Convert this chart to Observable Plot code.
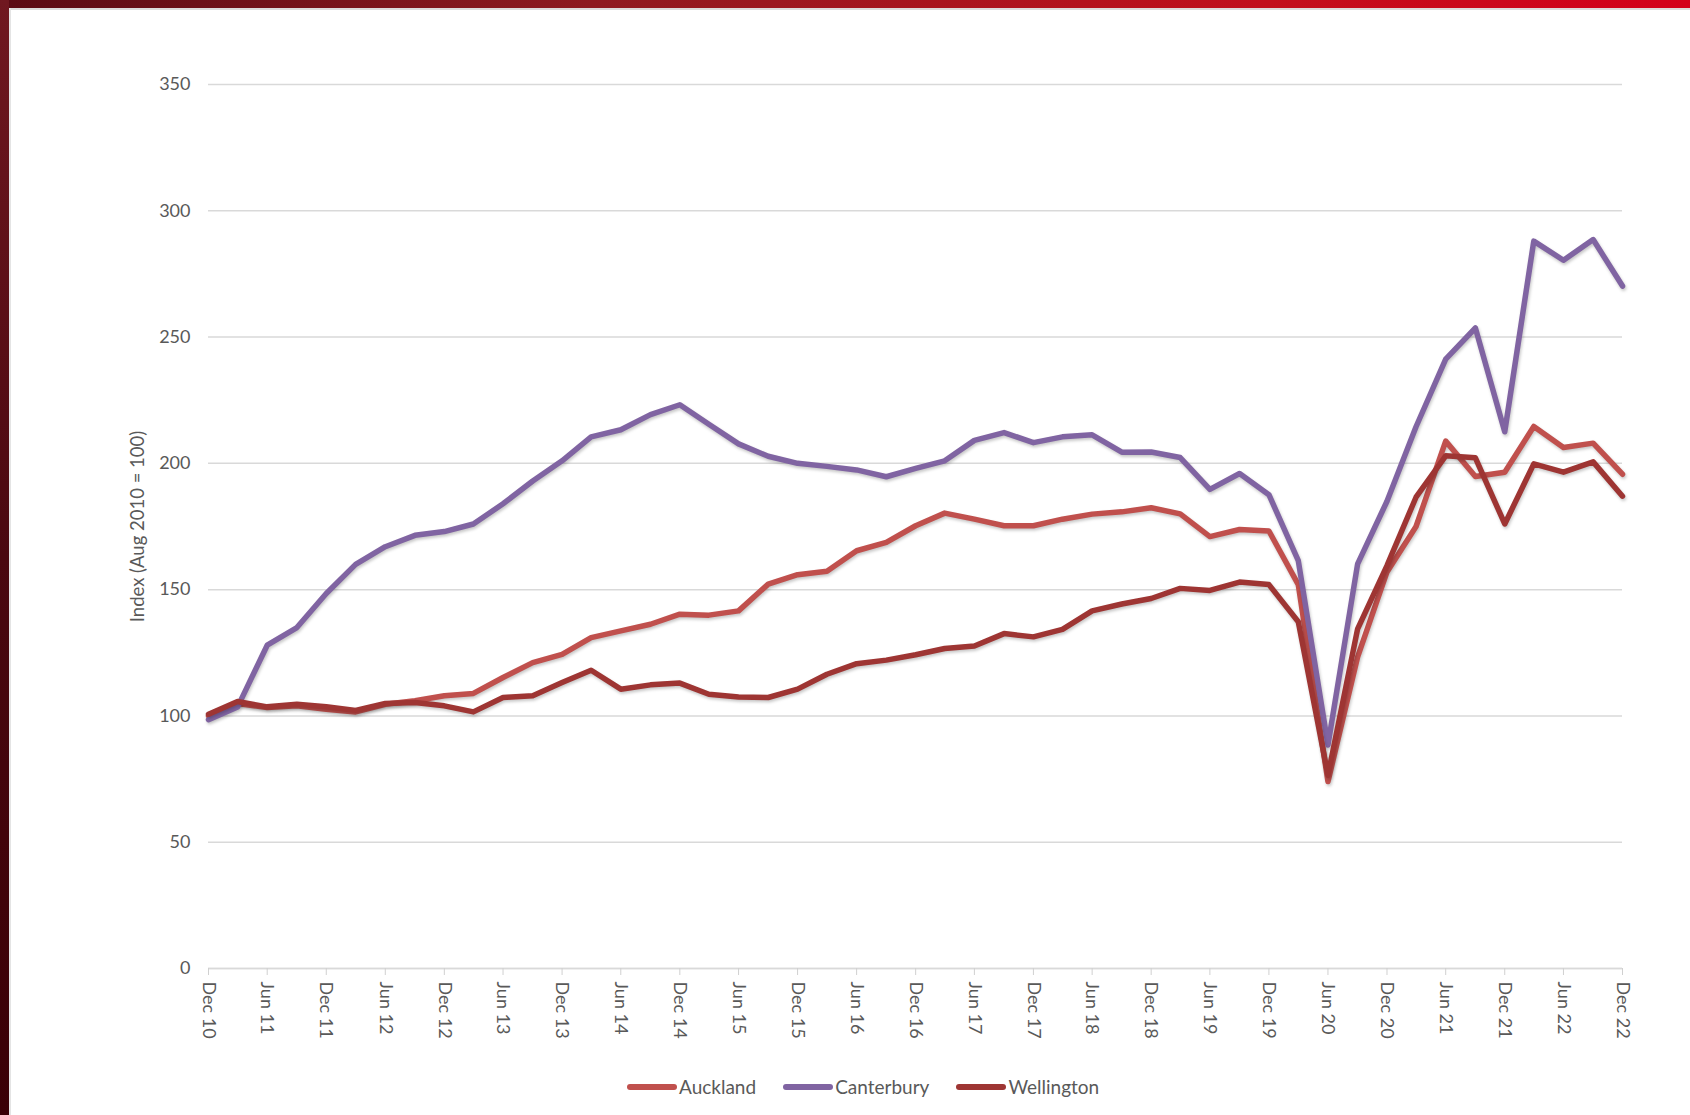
<!DOCTYPE html>
<html>
<head>
<meta charset="utf-8">
<script src="https://cdn.jsdelivr.net/npm/d3@7"></script>
<script src="https://cdn.jsdelivr.net/npm/@observablehq/plot@0.6"></script>
<style>
  html, body { margin: 0; padding: 0; background: #fff; }
  #page { position: relative; width: 1690px; height: 1115px; background: #fff; overflow: hidden; font-family: Lato, "Open Sans", sans-serif; }
  #topbar { position: absolute; left: 0; top: 0; width: 1690px; height: 8px; background: linear-gradient(to right, #5a0b14 0%, #8e1a20 35%, #c20f1c 75%, #d4001a 100%); }
  #topshade { position: absolute; left: 0; top: 8px; width: 1690px; height: 2px; background: #dcdcdc; }
  #leftbar { position: absolute; left: 0; top: 0; width: 9px; height: 1115px; background: linear-gradient(to bottom, #701820 0%, #4a0810 50%, #3a0006 100%); }
  #leftshade { position: absolute; left: 9px; top: 8px; width: 2px; height: 1107px; background: #e4e4e4; }
  #chart { position: absolute; left: 0; top: 0; }
  #chart svg g[aria-label="line"] path { filter: drop-shadow(1px 2px 1.5px rgba(0,0,0,0.22)); }
  #legend { position: absolute; left: 627px; top: 1075px; display: flex; align-items: center; font-size: 19px; color: #595959; font-family: Lato, sans-serif; }
  .item { display: flex; align-items: center; margin-right: 27px; }
  .sw { width: 50px; height: 6px; border-radius: 3px; margin-right: 2px; }
</style>
</head>
<body>
<div id="page">
  <div id="chart"></div>
  <div id="topbar"></div>
  <div id="topshade"></div>
  <div id="leftbar"></div>
  <div id="leftshade"></div>
  <div id="legend"></div>
</div>
<script>
const quarters = [
  "2010-12","2011-03","2011-06","2011-09","2011-12","2012-03","2012-06","2012-09","2012-12",
  "2013-03","2013-06","2013-09","2013-12","2014-03","2014-06","2014-09","2014-12",
  "2015-03","2015-06","2015-09","2015-12","2016-03","2016-06","2016-09","2016-12",
  "2017-03","2017-06","2017-09","2017-12","2018-03","2018-06","2018-09","2018-12",
  "2019-03","2019-06","2019-09","2019-12","2020-03","2020-06","2020-09","2020-12",
  "2021-03","2021-06","2021-09","2021-12","2022-03","2022-06","2022-09","2022-12"
];

const auckland = [
  100, 104.9, 103.3, 104, 102.6, 101.6, 104.6, 106, 108,
  108.9, 115.2, 121.1, 124.4, 131, 133.7, 136.3, 140.3,
  139.9, 141.6, 152.2, 155.9, 157.3, 165.4, 168.7, 175.3,
  180.3, 177.9, 175.3, 175.3, 177.9, 179.9, 180.8, 182.4,
  180, 171, 173.8, 173.2, 152, 74, 123.4, 157,
  175, 208.8, 194.8, 196.5, 214.6, 206.3, 208, 195.7
];

const canterbury = [
  98.5, 103.5, 128, 135, 148.5, 160, 167, 171.5, 173,
  176, 184, 193, 201, 210.5, 213.3, 219.3, 223.2,
  215.5, 207.7, 202.8, 200, 198.8, 197.4, 194.7, 198,
  201, 209.1, 212.2, 208.2, 210.5, 211.3, 204.4, 204.5,
  202.3, 189.7, 196, 187.6, 161.5, 88.5, 160.2, 185,
  214.5, 241.3, 253.6, 212.5, 288, 280.4, 288.6, 270.2
];

const wellington = [
  100.7, 105.7, 103.6, 104.6, 103.6, 102.2, 104.9, 105.3, 104,
  101.6, 107.3, 108, 113.2, 118.1, 110.6, 112.3, 113,
  108.6, 107.5, 107.3, 110.6, 116.5, 120.7, 122.1, 124.2,
  126.7, 127.7, 132.6, 131.3, 134.3, 141.6, 144.3, 146.5,
  150.5, 149.7, 153, 152, 137.3, 76.5, 134.5, 159.5,
  186.6, 203, 202.2, 176, 199.8, 196.5, 200.6, 187
];

const seriesNames = ["Auckland", "Canterbury", "Wellington"];
const seriesColors = ["#c0504d", "#8064a2", "#9e3533"];
const seriesValues = [auckland, canterbury, wellington];

const yTicks = [0, 50, 100, 150, 200, 250, 300, 350];
const xTickMonths = ["Dec", "Jun"];
const yLabel = "Index (Aug 2010 = 100)";

const parse = d3.utcParse("%Y-%m");
const dates = quarters.map(parse);
const fmt = d3.utcFormat("%b %y");
const xTicks = dates.filter(d => xTickMonths.includes(d3.utcFormat("%b")(d)));

const lineMarks = seriesNames.map((name, si) =>
  Plot.lineY(dates.map((d, i) => ({date: d, value: seriesValues[si][i], series: name})), {
    x: "date", y: "value", stroke: seriesColors[si], strokeWidth: 5.5,
    strokeLinejoin: "round", strokeLinecap: "round"
  })
);

const chart = Plot.plot({
  width: 1690,
  height: 1060,
  marginLeft: 208,
  marginRight: 68,
  marginTop: 84,
  marginBottom: 92,
  style: {fontFamily: "Lato, sans-serif", fontSize: "18px", color: "#595959", background: "transparent", overflow: "visible"},
  x: {type: "utc", domain: [dates[0], dates[dates.length - 1]]},
  y: {domain: [0, 350]},
  marks: [
    Plot.gridY(yTicks, {stroke: "#d9d9d9", strokeOpacity: 1, strokeWidth: 1.5}),
    Plot.axisY({ticks: yTicks, tickSize: 0, tickPadding: 18, label: null, fontSize: 18}),
    Plot.text([yLabel], {frameAnchor: "left", textAnchor: "middle", rotate: -90, dx: -70, fontSize: 18.5, fill: "#595959"}),
    Plot.ruleY([0], {stroke: "#d9d9d9", strokeWidth: 1.5}),
    Plot.axisX({ticks: xTicks, tickFormat: fmt, tickRotate: 90, tickSize: 7, tickPadding: 6, stroke: "#d0d0d0", strokeOpacity: 1, label: null, fontSize: 18}),
    ...lineMarks
  ]
});
document.getElementById("chart").appendChild(chart);

const legend = document.getElementById("legend");
seriesNames.forEach((name, i) => {
  const item = document.createElement("div");
  item.className = "item";
  const sw = document.createElement("div");
  sw.className = "sw";
  sw.style.background = seriesColors[i];
  const t = document.createElement("span");
  t.textContent = name;
  item.appendChild(sw);
  item.appendChild(t);
  legend.appendChild(item);
});
</script>
</body>
</html>
